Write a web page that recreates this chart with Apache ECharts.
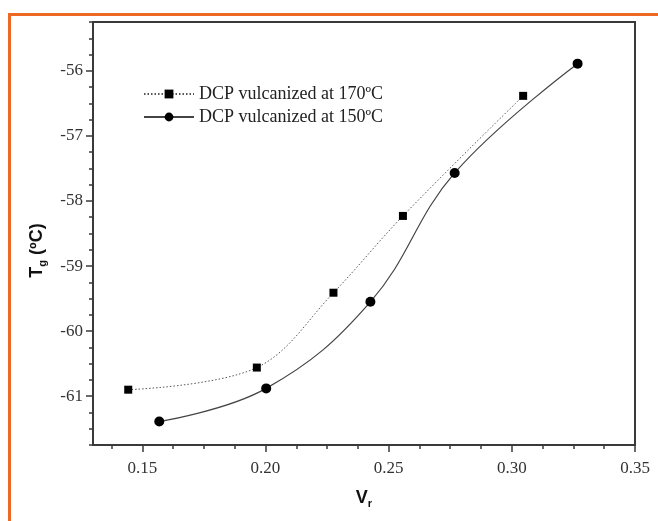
<!DOCTYPE html>
<html>
<head>
    <meta charset="utf-8">
    <script src="https://cdn.jsdelivr.net/npm/echarts@6/dist/echarts.min.js"></script>
</head>
<body style="margin:0;background:#fff;">
    <div id="main" style="width:658px;height:521px;"></div>
    <script type="text/javascript">
        // DCP vulcanized at 170ºC (squares, dotted)
        var vr170 = [0.1443, 0.1965, 0.2276, 0.2558, 0.3046];
        var tg170 = [-60.90, -60.56, -59.41, -58.23, -56.385];
        // DCP vulcanized at 150ºC (circles, solid)
        var vr150 = [0.1569, 0.2003, 0.2426, 0.2768, 0.3267];
        var tg150 = [-61.39, -60.88, -59.55, -57.57, -55.89];

        var xTicks = [0.15, 0.20, 0.25, 0.30, 0.35];
        var xMinorTicks = [0.1375, 0.1625, 0.175, 0.1875, 0.2125, 0.225, 0.2375,
            0.2625, 0.275, 0.2875, 0.3125, 0.325, 0.3375];
        var yTicks = [-61, -60, -59, -58, -57, -56];
        var yMinorTicks = [-61.75, -61.5, -61.25, -60.75, -60.5, -60.25, -59.75, -59.5, -59.25,
            -58.75, -58.5, -58.25, -57.75, -57.5, -57.25, -56.75, -56.5, -56.25,
            -55.75, -55.5, -55.25];

        var axisColor = '#3a3a3a';
        var serif = '"Liberation Serif", "Times New Roman", serif';
        var sans = '"Liberation Sans", Arial, sans-serif';

        function pairs(xs, ys) {
            var res = [];
            for (var i = 0; i < xs.length; i++) {
                res.push([xs[i], ys[i]]);
            }
            return res;
        }

        var titleRich = {
            t: { fontFamily: sans, fontWeight: 'bold', fontSize: 18, lineHeight: 22, color: '#111' },
            s: { fontFamily: sans, fontWeight: 'bold', fontSize: 11, lineHeight: 11, padding: [11, 0, 0, 0], color: '#111' }
        };

        var myChart = echarts.init(document.getElementById('main'));

        var option = {
            animation: false,
            backgroundColor: '#fff',
            graphic: [
                { type: 'rect', shape: { x: 8, y: 13, width: 650, height: 3 }, style: { fill: '#EE6A24' } },
                { type: 'rect', shape: { x: 8, y: 13, width: 3, height: 508 }, style: { fill: '#EE6A24' } }
            ],
            grid: {
                left: 93, top: 22, right: 23, bottom: 76,
                show: true, borderColor: axisColor, borderWidth: 2
            },
            legend: {
                orient: 'vertical',
                left: 138,
                top: 80,
                itemWidth: 50,
                itemHeight: 11,
                itemGap: 5,
                textStyle: { fontFamily: serif, fontSize: 18, lineHeight: 18, color: '#222' },
                data: ['DCP vulcanized at 170ºC', 'DCP vulcanized at 150ºC']
            },
            xAxis: [
                {
                    type: 'value', min: 0.13, max: 0.35, position: 'bottom',
                    axisLine: { onZero: false, lineStyle: { color: axisColor, width: 2 } },
                    axisTick: { customValues: xTicks, length: 7, lineStyle: { color: axisColor, width: 1.5 } },
                    axisLabel: {
                        customValues: xTicks, margin: 15,
                        fontFamily: serif, fontSize: 17, color: '#333',
                        formatter: function (v) { return v.toFixed(2); }
                    },
                    splitLine: { show: false },
                    name: '{t|V}{s|r}', nameLocation: 'middle', nameGap: 42,
                    nameTextStyle: { rich: titleRich }
                },
                {
                    type: 'value', min: 0.13, max: 0.35, position: 'bottom',
                    axisLine: { show: false },
                    axisTick: { customValues: xMinorTicks, length: 4, lineStyle: { color: axisColor, width: 1.5 } },
                    axisLabel: { show: false },
                    splitLine: { show: false }
                }
            ],
            yAxis: [
                {
                    type: 'value', min: -61.75, max: -55.25, position: 'left',
                    axisLine: { show: true, onZero: false, lineStyle: { color: axisColor, width: 2 } },
                    axisTick: { customValues: yTicks, length: 7, lineStyle: { color: axisColor, width: 1.5 } },
                    axisLabel: {
                        customValues: yTicks, margin: 10,
                        fontFamily: serif, fontSize: 17, color: '#333'
                    },
                    splitLine: { show: false },
                    name: '{t|T}{s|g}{t| (ºC)}', nameLocation: 'middle', nameGap: 45,
                    nameTextStyle: { rich: titleRich, padding: [0, 34, 0, 0] }
                },
                {
                    type: 'value', min: -61.75, max: -55.25, position: 'left',
                    axisLine: { show: false },
                    axisTick: { customValues: yMinorTicks, length: 4, lineStyle: { color: axisColor, width: 1.5 } },
                    axisLabel: { show: false },
                    splitLine: { show: false }
                }
            ],
            series: [
                {
                    name: 'DCP vulcanized at 170ºC',
                    type: 'line',
                    xAxisIndex: 0, yAxisIndex: 0,
                    smooth: 0.35,
                    symbol: 'rect',
                    symbolSize: 8,
                    lineStyle: { color: '#555', width: 1, type: [1.5, 2] },
                    itemStyle: { color: '#000' },
                    data: pairs(vr170, tg170)
                },
                {
                    name: 'DCP vulcanized at 150ºC',
                    type: 'line',
                    xAxisIndex: 0, yAxisIndex: 0,
                    smooth: 0.4,
                    symbol: 'circle',
                    symbolSize: 10,
                    lineStyle: { color: '#444', width: 1.2, type: 'solid' },
                    itemStyle: { color: '#000' },
                    data: pairs(vr150, tg150)
                }
            ]
        };

        myChart.setOption(option);
    </script>
</body>
</html>
